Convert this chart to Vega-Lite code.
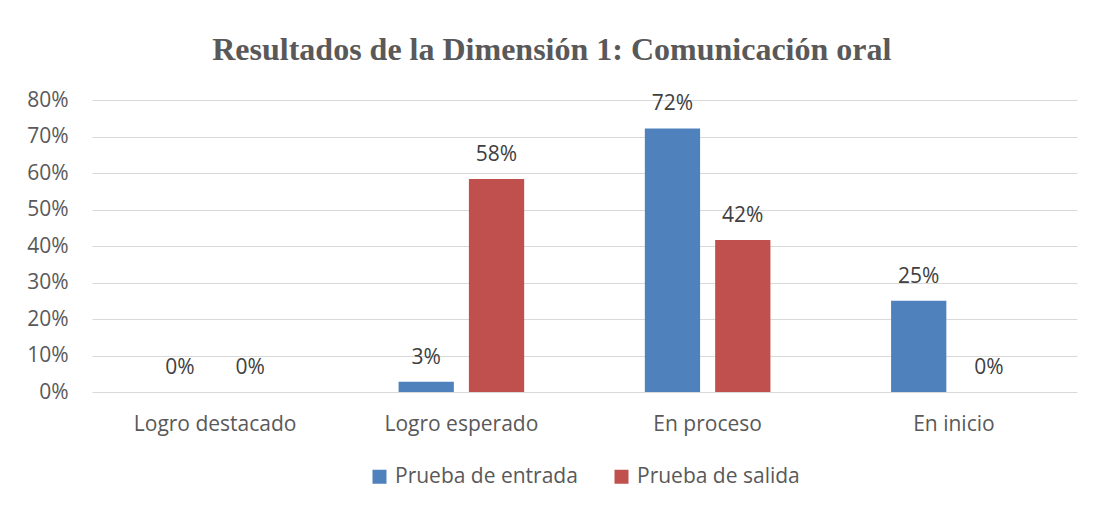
{
  "$schema": "https://vega.github.io/schema/vega-lite/v6.json",
  "width": 985,
  "height": 292,
  "autosize": {"type": "none"},
  "padding": {"left": 92, "top": 100, "right": 19, "bottom": 114},
  "background": "white",
  "title": {
    "text": "Resultados de la Dimensión 1: Comunicación oral",
    "font": "Liberation Serif",
    "fontSize": 32,
    "fontWeight": "bold",
    "color": "#595959",
    "anchor": "middle",
    "frame": "bounds",
    "offset": 22
  },
  "data": {
    "values": [
      {"cat": "Logro destacado", "serie": "Prueba de entrada", "v": 0},
      {"cat": "Logro destacado", "serie": "Prueba de salida", "v": 0},
      {"cat": "Logro esperado", "serie": "Prueba de entrada", "v": 0.0278},
      {"cat": "Logro esperado", "serie": "Prueba de salida", "v": 0.5833},
      {"cat": "En proceso", "serie": "Prueba de entrada", "v": 0.7222},
      {"cat": "En proceso", "serie": "Prueba de salida", "v": 0.4167},
      {"cat": "En inicio", "serie": "Prueba de entrada", "v": 0.25},
      {"cat": "En inicio", "serie": "Prueba de salida", "v": 0}
    ]
  },
  "encoding": {
    "x": {
      "field": "cat",
      "type": "nominal",
      "sort": null,
      "title": null,
      "scale": {"paddingInner": 0.49, "paddingOuter": 0.245},
      "axis": {
        "labelAngle": 0,
        "ticks": false,
        "domain": false,
        "grid": false,
        "labelFont": "Open Sans",
        "labelFontSize": 21,
        "labelColor": "#595959",
        "labelPadding": 21
      }
    },
    "xOffset": {
      "field": "serie",
      "type": "nominal",
      "sort": ["Prueba de entrada", "Prueba de salida"],
      "scale": {"paddingInner": 0.214, "paddingOuter": 0}
    },
    "y": {
      "field": "v",
      "type": "quantitative",
      "title": null,
      "scale": {"domain": [0, 0.8], "nice": false},
      "axis": {
        "format": ".0%",
        "values": [0, 0.1, 0.2, 0.3, 0.4, 0.5, 0.6, 0.7, 0.8],
        "ticks": false,
        "domain": false,
        "gridColor": "#d9d9d9",
        "gridWidth": 1,
        "labelFont": "Open Sans",
        "labelFontSize": 21,
        "labelColor": "#595959",
        "labelPadding": 24
      }
    }
  },
  "layer": [
    {
      "mark": {"type": "bar"},
      "encoding": {
        "color": {
          "field": "serie",
          "type": "nominal",
          "sort": ["Prueba de entrada", "Prueba de salida"],
          "scale": {"range": ["#4f81bd", "#c0504d"]},
          "legend": {
            "orient": "bottom",
            "direction": "horizontal",
            "title": null,
            "symbolType": "square",
            "symbolSize": 196,
            "symbolStrokeWidth": 0,
            "labelFont": "Open Sans",
            "labelFontSize": 21,
            "labelLimit": 400,
            "labelColor": "#595959",
            "columnPadding": 33,
            "labelOffset": 5,
            "offset": 32
          }
        }
      }
    },
    {
      "mark": {
        "type": "text",
        "baseline": "alphabetic",
        "dy": -18,
        "font": "Open Sans",
        "fontSize": 21,
        "color": "#404040"
      },
      "encoding": {
        "text": {"field": "v", "type": "quantitative", "format": ".0%"}
      }
    }
  ],
  "config": {
    "view": {"stroke": null},
    "legend": {"layout": {"bottom": {"anchor": "middle"}}}
  }
}
